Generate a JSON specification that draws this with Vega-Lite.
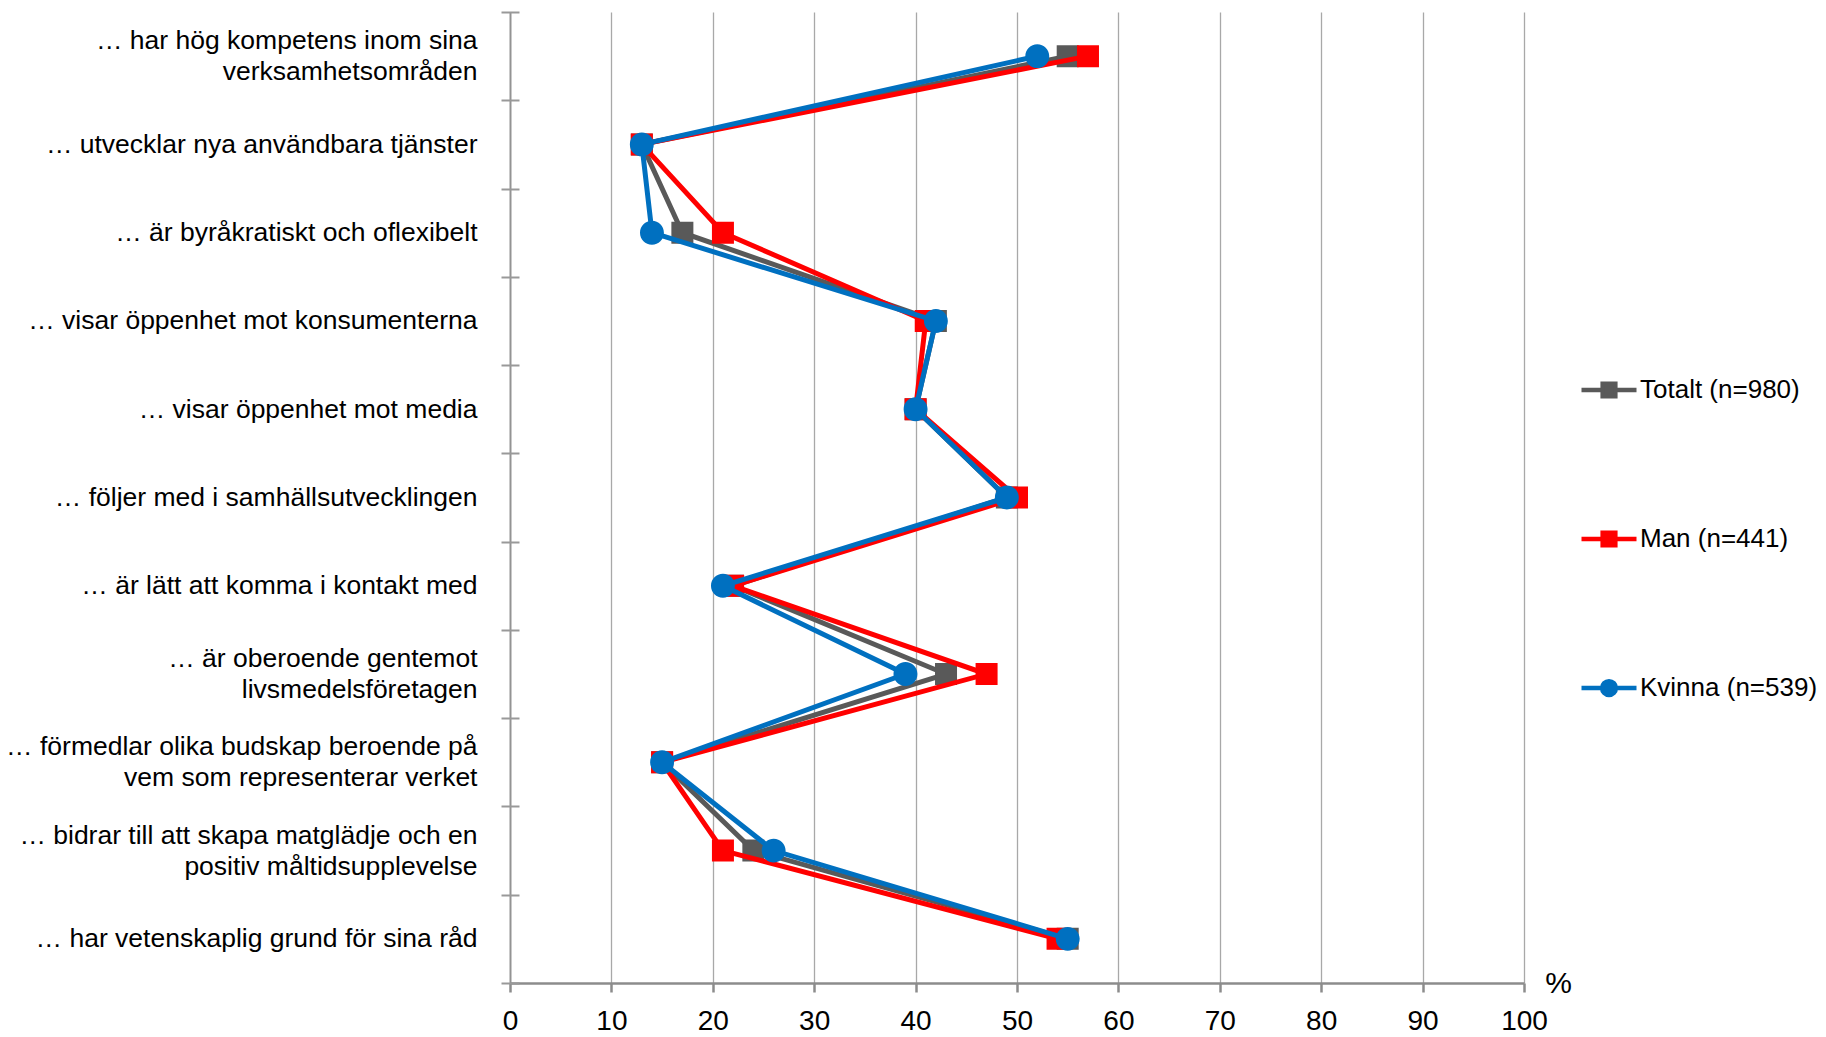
{
  "$schema": "https://vega.github.io/schema/vega-lite/v6.json",
  "autosize": "none",
  "width": 1014,
  "height": 971,
  "padding": {"left": 510, "top": 12, "right": 302, "bottom": 54},
  "background": "white",
  "config": {"view": {"stroke": null}, "font": "Liberation Sans"},
  "data": {
    "values": [
      {"item": "… har hög kompetens inom sina\nverksamhetsområden", "series": "Totalt (n=980)", "pct": 55},
      {"item": "… utvecklar nya användbara tjänster", "series": "Totalt (n=980)", "pct": 13},
      {"item": "… är byråkratiskt och oflexibelt", "series": "Totalt (n=980)", "pct": 17},
      {"item": "… visar öppenhet mot konsumenterna", "series": "Totalt (n=980)", "pct": 42},
      {"item": "… visar öppenhet mot media", "series": "Totalt (n=980)", "pct": 40},
      {"item": "… följer med i samhällsutvecklingen", "series": "Totalt (n=980)", "pct": 49},
      {"item": "… är lätt att komma i kontakt med", "series": "Totalt (n=980)", "pct": 22},
      {"item": "… är oberoende gentemot\nlivsmedelsföretagen", "series": "Totalt (n=980)", "pct": 43},
      {"item": "… förmedlar olika budskap beroende på\nvem som representerar verket", "series": "Totalt (n=980)", "pct": 15},
      {"item": "… bidrar till att skapa matglädje och en\npositiv måltidsupplevelse", "series": "Totalt (n=980)", "pct": 24},
      {"item": "… har vetenskaplig grund för sina råd", "series": "Totalt (n=980)", "pct": 55},
      {"item": "… har hög kompetens inom sina\nverksamhetsområden", "series": "Man (n=441)", "pct": 57},
      {"item": "… utvecklar nya användbara tjänster", "series": "Man (n=441)", "pct": 13},
      {"item": "… är byråkratiskt och oflexibelt", "series": "Man (n=441)", "pct": 21},
      {"item": "… visar öppenhet mot konsumenterna", "series": "Man (n=441)", "pct": 41},
      {"item": "… visar öppenhet mot media", "series": "Man (n=441)", "pct": 40},
      {"item": "… följer med i samhällsutvecklingen", "series": "Man (n=441)", "pct": 50},
      {"item": "… är lätt att komma i kontakt med", "series": "Man (n=441)", "pct": 22},
      {"item": "… är oberoende gentemot\nlivsmedelsföretagen", "series": "Man (n=441)", "pct": 47},
      {"item": "… förmedlar olika budskap beroende på\nvem som representerar verket", "series": "Man (n=441)", "pct": 15},
      {"item": "… bidrar till att skapa matglädje och en\npositiv måltidsupplevelse", "series": "Man (n=441)", "pct": 21},
      {"item": "… har vetenskaplig grund för sina råd", "series": "Man (n=441)", "pct": 54},
      {"item": "… har hög kompetens inom sina\nverksamhetsområden", "series": "Kvinna (n=539)", "pct": 52},
      {"item": "… utvecklar nya användbara tjänster", "series": "Kvinna (n=539)", "pct": 13},
      {"item": "… är byråkratiskt och oflexibelt", "series": "Kvinna (n=539)", "pct": 14},
      {"item": "… visar öppenhet mot konsumenterna", "series": "Kvinna (n=539)", "pct": 42},
      {"item": "… visar öppenhet mot media", "series": "Kvinna (n=539)", "pct": 40},
      {"item": "… följer med i samhällsutvecklingen", "series": "Kvinna (n=539)", "pct": 49},
      {"item": "… är lätt att komma i kontakt med", "series": "Kvinna (n=539)", "pct": 21},
      {"item": "… är oberoende gentemot\nlivsmedelsföretagen", "series": "Kvinna (n=539)", "pct": 39},
      {"item": "… förmedlar olika budskap beroende på\nvem som representerar verket", "series": "Kvinna (n=539)", "pct": 15},
      {"item": "… bidrar till att skapa matglädje och en\npositiv måltidsupplevelse", "series": "Kvinna (n=539)", "pct": 26},
      {"item": "… har vetenskaplig grund för sina råd", "series": "Kvinna (n=539)", "pct": 55}
    ]
  },
  "encoding": {
    "x": {
      "field": "pct", "type": "quantitative",
      "scale": {"domain": [0, 100], "nice": false, "zero": true},
      "axis": {
        "values": [0, 10, 20, 30, 40, 50, 60, 70, 80, 90, 100],
        "title": "%",
        "titleX": 1048, "titleY": 0, "titleAlign": "center", "titleBaseline": "middle",
        "titleFontSize": 30, "titleFontWeight": "normal", "titleColor": "#000000", "titleFont": "Liberation Sans",
        "domainColor": "#8c8c8c", "domainWidth": 2.7,
        "tickColor": "#8c8c8c", "tickWidth": 2.5, "tickSize": 9,
        "labelPadding": 15, "labelFontSize": 28, "labelColor": "#000000", "labelFont": "Liberation Sans",
        "labelFlush": false, "labelOverlap": false,
        "grid": true,
        "gridColor": {"condition": {"test": "datum.value === 0", "value": "#939393"}, "value": "#a8a8a8"},
        "gridWidth": {"condition": {"test": "datum.value === 0", "value": 2}, "value": 1.3}
      }
    },
    "y": {
      "field": "item", "type": "nominal", "sort": null,
      "scale": {"type": "band", "paddingInner": 0, "paddingOuter": 0},
      "axis": {
        "title": null, "domain": false, "offset": -9, "tickSize": 18, "tickBand": "extent",
        "tickColor": "#999999", "tickWidth": 2,
        "labelPadding": 24, "labelFontSize": 26.5, "labelLineHeight": 31, "labelColor": "#000000",
        "labelFont": "Liberation Sans", "labelLimit": 0, "labelAlign": "right",
        "labelOffset": {"condition": {"test": "isValid(datum.value) && indexof(datum.value, '\\n') >= 0", "value": -15.5}, "value": 0},
        "labelExpr": "isValid(datum.value) ? split(datum.value, '\\n') : ''", "grid": false
      }
    },
    "color": {
      "field": "series", "type": "nominal",
      "scale": {"domain": ["Totalt (n=980)", "Man (n=441)", "Kvinna (n=539)"], "range": ["#595959", "#ff0000", "#0070c0"]},
      "legend": {
        "orient": "none", "legendX": 1069, "legendY": 348, "title": null, "direction": "vertical",
        "padding": 0, "rowPadding": 103, "symbolSize": 3025, "symbolStrokeWidth": 4.5,
        "labelFontSize": 26, "labelColor": "#000000", "labelFont": "Liberation Sans", "labelOffset": 1, "labelLimit": 0,
        "encode": {
          "symbols": {
            "update": {
              "fill": {"scale": "color", "field": "value"},
              "stroke": {"scale": "color", "field": "value"},
              "strokeWidth": {"value": 4.5},
              "size": {"value": 3025},
              "opacity": {"value": 1}
            }
          }
        }
      }
    },
    "order": {"value": null}
  },
  "layer": [
    {
      "transform": [{"filter": "datum.series === 'Totalt (n=980)'"}],
      "mark": {"type": "line", "strokeWidth": 5},
      "encoding": {}
    },
    {
      "transform": [{"filter": "datum.series === 'Totalt (n=980)'"}],
      "mark": {"type": "point", "filled": true, "opacity": 1, "size": 9150},
      "encoding": {
        "shape": {
          "field": "series", "type": "nominal",
          "scale": {
            "domain": ["Totalt (n=980)", "Man (n=441)", "Kvinna (n=539)"],
            "range": [
              "M-1,0H-0.23M0.23,0H1M-0.23,-0.23H0.23V0.23H-0.23Z",
              "M-1,0H-0.23M0.23,0H1M-0.23,-0.23H0.23V0.23H-0.23Z",
              "M-1,0H-0.25M0.25,0H1M-0.25,0A0.25,0.25,0,1,0,0.25,0A0.25,0.25,0,1,0,-0.25,0Z"
            ]
          }
        }
      }
    },
    {
      "transform": [{"filter": "datum.series === 'Man (n=441)'"}],
      "mark": {"type": "line", "strokeWidth": 5},
      "encoding": {}
    },
    {
      "transform": [{"filter": "datum.series === 'Man (n=441)'"}],
      "mark": {"type": "point", "filled": true, "opacity": 1, "size": 9150},
      "encoding": {"shape": {"field": "series", "type": "nominal"}}
    },
    {
      "transform": [{"filter": "datum.series === 'Kvinna (n=539)'"}],
      "mark": {"type": "line", "strokeWidth": 5},
      "encoding": {}
    },
    {
      "transform": [{"filter": "datum.series === 'Kvinna (n=539)'"}],
      "mark": {"type": "point", "filled": true, "opacity": 1, "size": 9150},
      "encoding": {"shape": {"field": "series", "type": "nominal"}}
    }
  ]
}
